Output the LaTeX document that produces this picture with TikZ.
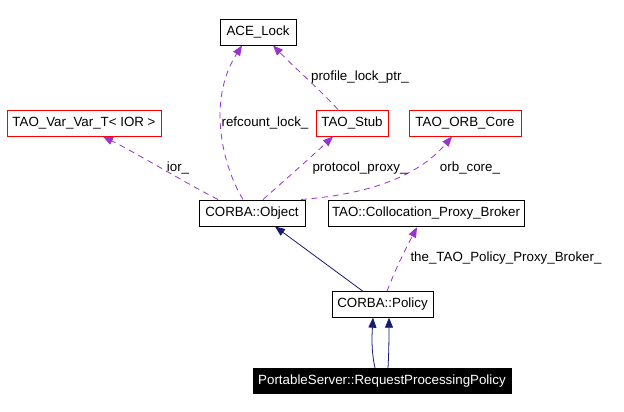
\documentclass[tikz,border=0pt]{standalone}
\usepackage{fontspec}
\setmainfont{Liberation Sans}
\usetikzlibrary{arrows.meta,calc}
\definecolor{edgepurple}{HTML}{9A32CD}
\definecolor{edgenavy}{HTML}{191970}
\tikzset{
  cls/.style={draw=black, line width=0.75pt, inner sep=0pt, font=\fontsize{10pt}{12pt}\selectfont, text=black},
  redcls/.style={cls, draw=red},
  usage/.style={draw=edgepurple, line width=0.6pt, dash pattern=on 4.5pt off 3.5pt,
    -{Triangle[length=7.5pt,width=6pt,fill=edgepurple]}},
  inherit/.style={draw=edgenavy, line width=0.6pt,
    -{Triangle[length=7.5pt,width=6pt,fill=edgenavy]}},
  elabel/.style={font=\fontsize{10pt}{12pt}\selectfont, inner sep=0pt, text=black}
}
\begin{document}
\begin{tikzpicture}[x=0.75pt,y=-0.75pt]
\useasboundingbox[fill=white] (0,0) rectangle (624,411);
% nodes
\node[cls, minimum width=57pt, minimum height=19.5pt] (ace) at (258,32) {ACE\_Lock};
\node[redcls, minimum width=54pt, minimum height=19.5pt] (stub) at (352,123) {TAO\_Stub};
\node[redcls, minimum width=84pt, minimum height=19.5pt] (orb) at (465,123) {TAO\_ORB\_Core};
\node[redcls, minimum width=115.5pt, minimum height=19.5pt] (var) at (84,123) {TAO\_Var\_Var\_T< IOR >};
\node[cls, minimum width=79.5pt, minimum height=19.5pt] (obj) at (252,213) {CORBA::Object};
\node[cls, minimum width=147pt, minimum height=20pt] (coll) at (426,213.5) {TAO::Collocation\_Proxy\_Broker};
\node[cls, minimum width=75.75pt, minimum height=19pt] (pol) at (382.5,304.5) {CORBA::Policy};
\node[cls, fill=black, text=white, minimum width=193.5pt, minimum height=19pt] (rpp) at (382,381) {PortableServer::RequestProcessingPolicy};
% usage edges
\draw[usage] ($(obj.north)+(-9,0)$) .. controls (222,165) and (207,100) .. ($(ace.south)+(-16,0)$);
\draw[usage] ($(stub.north)+(-14,0)$) .. controls (320,90) and (295,68) .. ($(ace.south)+(15,0)$);
\draw[usage] ($(obj.north)+(-34,0)$) .. controls (180,180) and (140,155) .. ($(var.south)+(19,0)$);
\draw[usage] ($(obj.north)+(11,0)$) .. controls (285,180) and (310,158) .. ($(stub.south)+(-19,0)$);
\draw[usage] ($(obj.north)+(49,0)$) .. controls (360,195) and (415,180) .. ($(orb.south)+(-13,0)$);
\draw[usage] ($(pol.north)+(4.5,0)$) .. controls (395,270) and (405,250) .. ($(coll.south)+(-9,0)$);
% inheritance edges
\draw[inherit] ($(pol.north)+(-19.5,0)$) -- ($(obj.south)+(23,0)$);
\draw[inherit] ($(rpp.north)+(-7,0)$) .. controls (371,350) and (372,335) .. ($(pol.south)+(-9.5,0)$);
\draw[inherit] ($(rpp.north)+(6,0)$) .. controls (389,350) and (389,335) .. ($(pol.south)+(6.5,0)$);
% labels
\node[elabel] (l1) at (265,123) {refcount\_lock\_};
\node[elabel] (l2) at (360,77) {profile\_lock\_ptr\_};
\node[elabel] (l3) at (178,168) {ior\_};
\node[elabel] (l4) at (360,168) {protocol\_proxy\_};
\node[elabel] (l5) at (470,168) {orb\_core\_};
\node[elabel] (l6) at (506,258) {the\_TAO\_Policy\_Proxy\_Broker\_};
\end{tikzpicture}
\end{document}
